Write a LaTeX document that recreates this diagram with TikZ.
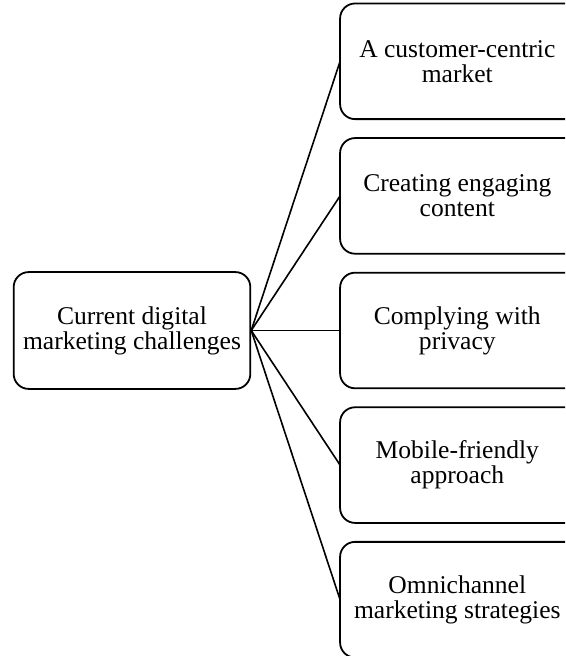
\documentclass[tikz,border=0pt]{standalone}
\usepackage{fontspec}
\setmainfont{Liberation Serif}
\usetikzlibrary{positioning}

\begin{document}
\begin{tikzpicture}[chnode/.style={rectangle, align=center, minimum width=117pt, minimum height=57.5pt, inner sep=0pt, font=\fontsize{12.8pt}{12.6pt}\selectfont}, chbox/.style={rounded corners=7.5pt, draw=black, line width=0.9pt}, node distance=9.5pt]
	\useasboundingbox (0,0) rectangle (283pt,-328.5pt);
	\clip (0,0) rectangle (283pt,-328.5pt);
	\node[chnode] (privacy) at (229pt,-165.5pt) {Complying with\\privacy};
	\node[chnode] (content) [above = of privacy] {Creating engaging\\content};
	\node[chnode] (market) [above = of content] {A customer-centric\\market};
	\node[chnode] (mobile) [below = of privacy] {Mobile-friendly\\approach};
	\node[chnode] (omni) [below = of mobile] {Omnichannel\\marketing strategies};
	\node[chnode, chbox, minimum width=118.5pt, minimum height=58.5pt] (challenges) [left = 44.5pt of privacy] {Current digital\\marketing challenges};
	% the right boxes run past the edge of the page
	\foreach \n in {market,content,privacy,mobile,omni}
		\draw[chbox] (\n.north west) rectangle ([xshift=14pt]\n.south east);
	\draw[line width=0.8pt] (challenges.east) -- (market.west);
	\draw[line width=0.8pt] (challenges.east) -- (content.west);
	\draw[line width=0.8pt] (challenges.east) -- (privacy.west);
	\draw[line width=0.8pt] (challenges.east) -- (mobile.west);
	\draw[line width=0.8pt] (challenges.east) -- (omni.west);
\end{tikzpicture}
\end{document}
